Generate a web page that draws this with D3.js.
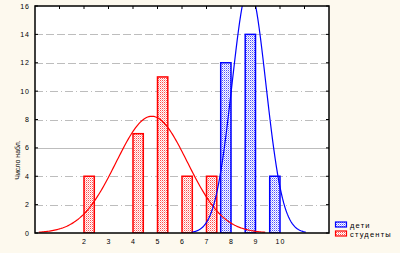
<!DOCTYPE html>
<html>
<head>
  <meta charset="utf-8" />
  <title>Histogram</title>
  <style>
    body { margin: 0; background: #fdf9ee; }
    svg { display: block; }
    text { font-family: "Liberation Sans", Arial, sans-serif; fill: #000; }
  </style>
  <script src="https://cdnjs.cloudflare.com/ajax/libs/d3/7.8.5/d3.min.js"></script>
</head>
<body>
  <div id="chart"></div>
  <script>
    // bar data: value -> number of observations
    var childValues = [8, 9, 10];
    var childCounts = [12, 14, 4];
    var studentValues = [2, 4, 5, 6, 7];
    var studentCounts = [4, 7, 11, 4, 4];
    var seriesNames = ['дети', 'студенты'];
    var xTickLabels = [2, 3, 4, 5, 6, 7, 8, 9, 10];
    var yTickLabels = [0, 2, 4, 6, 8, 10, 12, 14, 16];

    var w = 400, h = 253;
    // note: "top" clashes with window.top, so use pl/pr/pt/pb
    var pl = 35, pr = 329, pt = 6, pb = 233;
    var blue = '#0000ff', red = '#ff0000';

    var x = d3.scaleLinear().domain([0, 12]).range([pl, pr]);
    var y = d3.scaleLinear().domain([0, 16]).range([pb, pt]);

    var svg = d3.select('#chart').append('svg')
      .attr('width', w)
      .attr('height', h);

    // checker patterns for bar fills
    var defs = svg.append('defs');
    function checker(id, col) {
      var p = defs.append('pattern')
        .attr('id', id)
        .attr('patternUnits', 'userSpaceOnUse')
        .attr('width', 2).attr('height', 2);
      p.append('rect').attr('width', 2).attr('height', 2).attr('fill', '#fff');
      p.append('rect').attr('width', 1).attr('height', 1).attr('fill', col).attr('opacity', 0.7);
      p.append('rect').attr('x', 1).attr('y', 1).attr('width', 1).attr('height', 1).attr('fill', col).attr('opacity', 0.3);
    }
    checker('hatchBlue', blue);
    checker('hatchRed', red);
    defs.append('clipPath').attr('id', 'plotClip')
      .append('rect').attr('x', pl).attr('y', pt)
      .attr('width', pr - pl).attr('height', pb - pt);

    svg.append('rect')
      .attr('x', pl).attr('y', pt)
      .attr('width', pr - pl).attr('height', pb - pt)
      .attr('fill', '#fff');

    // grid lines
    var dashes = { 2: '8,3,1,3', 4: '8,3,1,3', 6: null, 8: '8,3,1,3', 10: '8,3,1,3', 12: '8,3', 14: '8,3' };
    svg.append('g').selectAll('line')
      .data(yTickLabels.filter(d => d > 0 && d < 16))
      .enter().append('line')
      .attr('x1', pl).attr('x2', pr)
      .attr('y1', d => Math.round(y(d)) + 0.5).attr('y2', d => Math.round(y(d)) + 0.5)
      .attr('stroke', '#bdbdbd')
      .attr('stroke-width', 1)
      .attr('stroke-dasharray', d => dashes[d]);

    var bw = 0.42;
    var plot = svg.append('g').attr('clip-path', 'url(#plotClip)');

    plot.selectAll('rect.child')
      .data(childValues)
      .enter().append('rect')
      .attr('class', 'child')
      .attr('x', d => x(d - bw))
      .attr('y', (d, i) => y(childCounts[i]))
      .attr('width', x(bw) - x(0))
      .attr('height', (d, i) => pb - y(childCounts[i]))
      .attr('fill', 'url(#hatchBlue)')
      .attr('stroke', blue)
      .attr('stroke-width', 1.5);

    plot.selectAll('rect.student')
      .data(studentValues)
      .enter().append('rect')
      .attr('class', 'student')
      .attr('x', d => x(d))
      .attr('y', (d, i) => y(studentCounts[i]))
      .attr('width', x(bw) - x(0))
      .attr('height', (d, i) => pb - y(studentCounts[i]))
      .attr('fill', 'url(#hatchRed)')
      .attr('stroke', red)
      .attr('stroke-width', 1.5);

    // fitted normal curves (expected counts per unit)
    function normalFit(vals, counts) {
      var n = d3.sum(counts);
      var mean = d3.sum(vals, (v, i) => v * counts[i]) / n;
      var ss = d3.sum(vals, (v, i) => counts[i] * (v - mean) * (v - mean));
      var sd = Math.sqrt(ss / (n - 1));
      return function (v) {
        var z = (v - mean) / sd;
        return n / (sd * Math.sqrt(2 * Math.PI)) * Math.exp(-z * z / 2);
      };
    }
    var line = d3.line().x(d => x(d[0])).y(d => y(d[1]));
    [[studentValues, studentCounts, red], [childValues, childCounts, blue]].forEach(function (s) {
      var f = normalFit(s[0], s[1]);
      var pts = d3.range(0, 12.001, 0.05).map(v => [v, f(v)]).filter(p => p[1] > 0.05);
      plot.append('path')
        .attr('d', line(pts))
        .attr('fill', 'none')
        .attr('stroke', s[2])
        .attr('stroke-width', 1.2);
    });

    // frame
    svg.append('rect')
      .attr('x', pl).attr('y', pt)
      .attr('width', pr - pl).attr('height', pb - pt)
      .attr('fill', 'none')
      .attr('stroke', '#000')
      .attr('stroke-width', 1.5);

    // inner ticks on top, left, right
    var tk = svg.append('g').attr('stroke', '#000').attr('stroke-width', 1);
    d3.range(1, 12).forEach(function (v) {
      tk.append('line').attr('x1', x(v)).attr('x2', x(v)).attr('y1', pt).attr('y2', pt + 3);
    });
    yTickLabels.forEach(function (v) {
      tk.append('line').attr('x1', pl).attr('x2', pl + 3).attr('y1', y(v)).attr('y2', y(v));
      tk.append('line').attr('x1', pr - 3).attr('x2', pr).attr('y1', y(v)).attr('y2', y(v));
    });

    // tick labels
    svg.append('g').selectAll('text')
      .data(yTickLabels)
      .enter().append('text')
      .attr('x', 30)
      .attr('y', d => y(d) + 2.5)
      .attr('text-anchor', 'end')
      .attr('font-size', 7)
      .attr('letter-spacing', 1)
      .text(d => d);

    svg.append('g').selectAll('text')
      .data(xTickLabels)
      .enter().append('text')
      .attr('x', d => x(d) + 0.5)
      .attr('y', 243.5)
      .attr('text-anchor', 'middle')
      .attr('font-size', 7)
      .attr('letter-spacing', 1)
      .text(d => d);

    svg.append('text')
      .attr('transform', 'translate(20,160) rotate(-90)')
      .attr('text-anchor', 'middle')
      .attr('font-size', 7)
      .text('Число набл.');

    // legend
    var lg = svg.append('g');
    seriesNames.forEach(function (name, i) {
      var yy = 222 + i * 9;
      lg.append('rect')
        .attr('x', 335.5).attr('y', yy)
        .attr('width', 11).attr('height', 5)
        .attr('fill', i === 0 ? 'url(#hatchBlue)' : 'url(#hatchRed)')
        .attr('stroke', i === 0 ? blue : red)
        .attr('stroke-width', 1.2);
      lg.append('text')
        .attr('x', 350)
        .attr('y', yy + 5.5)
        .attr('font-size', 7.5)
        .attr('letter-spacing', 1.2)
        .text(name);
    });
  </script>
</body>
</html>
